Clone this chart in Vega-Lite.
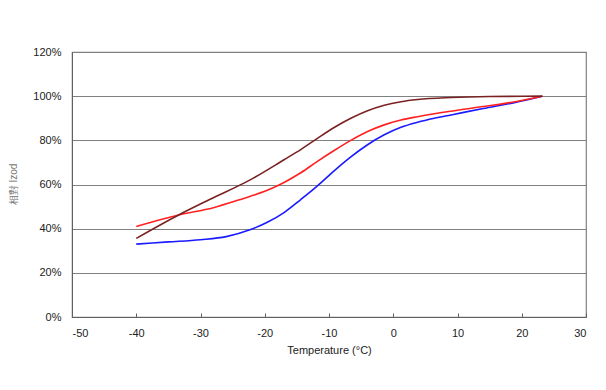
{
  "$schema": "https://vega.github.io/schema/vega-lite/v6.json",
  "autosize": "none",
  "width": 514,
  "height": 265,
  "padding": {"left": 72, "top": 52, "right": 20, "bottom": 73},
  "background": "white",
  "config": {
    "font": "Liberation Sans",
    "view": {"stroke": "#808080", "strokeWidth": 1.2}
  },
  "data": {
    "values": [
      {"t": -40, "v": 33, "s": "A"},
      {"t": -35, "v": 34, "s": "A"},
      {"t": -30, "v": 35, "s": "A"},
      {"t": -26, "v": 36.4, "s": "A"},
      {"t": -22.2, "v": 39.6, "s": "A"},
      {"t": -19.6, "v": 42.9, "s": "A"},
      {"t": -17, "v": 47.3, "s": "A"},
      {"t": -14.4, "v": 53.2, "s": "A"},
      {"t": -11.8, "v": 59.4, "s": "A"},
      {"t": -9.2, "v": 66.2, "s": "A"},
      {"t": -6.6, "v": 72.5, "s": "A"},
      {"t": -4, "v": 78, "s": "A"},
      {"t": -1.4, "v": 82.5, "s": "A"},
      {"t": 1.2, "v": 85.9, "s": "A"},
      {"t": 3.8, "v": 88.2, "s": "A"},
      {"t": 6.4, "v": 90, "s": "A"},
      {"t": 9, "v": 91.5, "s": "A"},
      {"t": 14, "v": 94.4, "s": "A"},
      {"t": 19, "v": 97.2, "s": "A"},
      {"t": 23.2, "v": 100, "s": "A"},
      {"t": -40, "v": 41, "s": "B"},
      {"t": -33.4, "v": 46.2, "s": "B"},
      {"t": -28, "v": 49.5, "s": "B"},
      {"t": -23.8, "v": 53.2, "s": "B"},
      {"t": -22.2, "v": 54.7, "s": "B"},
      {"t": -19.6, "v": 57.4, "s": "B"},
      {"t": -17, "v": 60.9, "s": "B"},
      {"t": -14.4, "v": 65.3, "s": "B"},
      {"t": -11.8, "v": 70.5, "s": "B"},
      {"t": -9.2, "v": 75.4, "s": "B"},
      {"t": -6.6, "v": 80, "s": "B"},
      {"t": -4, "v": 84, "s": "B"},
      {"t": -1.4, "v": 87, "s": "B"},
      {"t": 1.2, "v": 89.2, "s": "B"},
      {"t": 3.8, "v": 90.7, "s": "B"},
      {"t": 9, "v": 93.2, "s": "B"},
      {"t": 14, "v": 95.3, "s": "B"},
      {"t": 19, "v": 97.5, "s": "B"},
      {"t": 23.2, "v": 100, "s": "B"},
      {"t": -40, "v": 35.6, "s": "C"},
      {"t": -33.4, "v": 46.2, "s": "C"},
      {"t": -28.5, "v": 53.3, "s": "C"},
      {"t": -22.2, "v": 62.2, "s": "C"},
      {"t": -17, "v": 71.2, "s": "C"},
      {"t": -14.4, "v": 75.8, "s": "C"},
      {"t": -11.8, "v": 80.9, "s": "C"},
      {"t": -9.2, "v": 85.8, "s": "C"},
      {"t": -6.6, "v": 90, "s": "C"},
      {"t": -4, "v": 93.4, "s": "C"},
      {"t": -1.4, "v": 95.9, "s": "C"},
      {"t": 1.2, "v": 97.5, "s": "C"},
      {"t": 3.8, "v": 98.5, "s": "C"},
      {"t": 9, "v": 99.4, "s": "C"},
      {"t": 15, "v": 99.85, "s": "C"},
      {"t": 23.2, "v": 100, "s": "C"}
    ]
  },
  "mark": {"type": "line", "interpolate": "monotone", "strokeWidth": 1.6},
  "encoding": {
    "x": {
      "field": "t",
      "type": "quantitative",
      "scale": {"domain": [-50, 30], "nice": false},
      "axis": {
        "title": "Temperature (°C)",
        "titleFontSize": 11,
        "titleFontWeight": "normal",
        "titleColor": "#222",
        "titlePadding": 6,
        "values": [-50, -40, -30, -20, -10, 0, 10, 20, 30],
        "labelExpr": "datum.value < 0 ? '-' + abs(datum.value) : '' + datum.value",
        "labelFontSize": 11,
        "labelColor": "#222",
        "labelPadding": 14,
        "tickSize": -4,
        "tickColor": "#606060",
        "domainColor": "#606060",
        "grid": false
      }
    },
    "y": {
      "field": "v",
      "type": "quantitative",
      "scale": {"domain": [0, 120], "nice": false},
      "axis": {
        "title": "相對 Izod",
        "titleFontSize": 10,
        "titleFontWeight": "normal",
        "titleColor": "#777",
        "titleX": -59,
        "titleY": 132,
        "titleAngle": -90,
        "titleBaseline": "middle",
        "titleAlign": "center",
        "values": [0, 20, 40, 60, 80, 100, 120],
        "labelExpr": "datum.value + '%'",
        "labelFontSize": 11,
        "labelColor": "#222",
        "labelPadding": 11,
        "ticks": false,
        "domainColor": "#606060",
        "grid": true,
        "gridColor": "#808080",
        "gridWidth": 1.2
      }
    },
    "color": {
      "field": "s",
      "type": "nominal",
      "scale": {"domain": ["A", "B", "C"], "range": ["#1a1aff", "#ff2020", "#7a2222"]},
      "legend": null
    }
  }
}
